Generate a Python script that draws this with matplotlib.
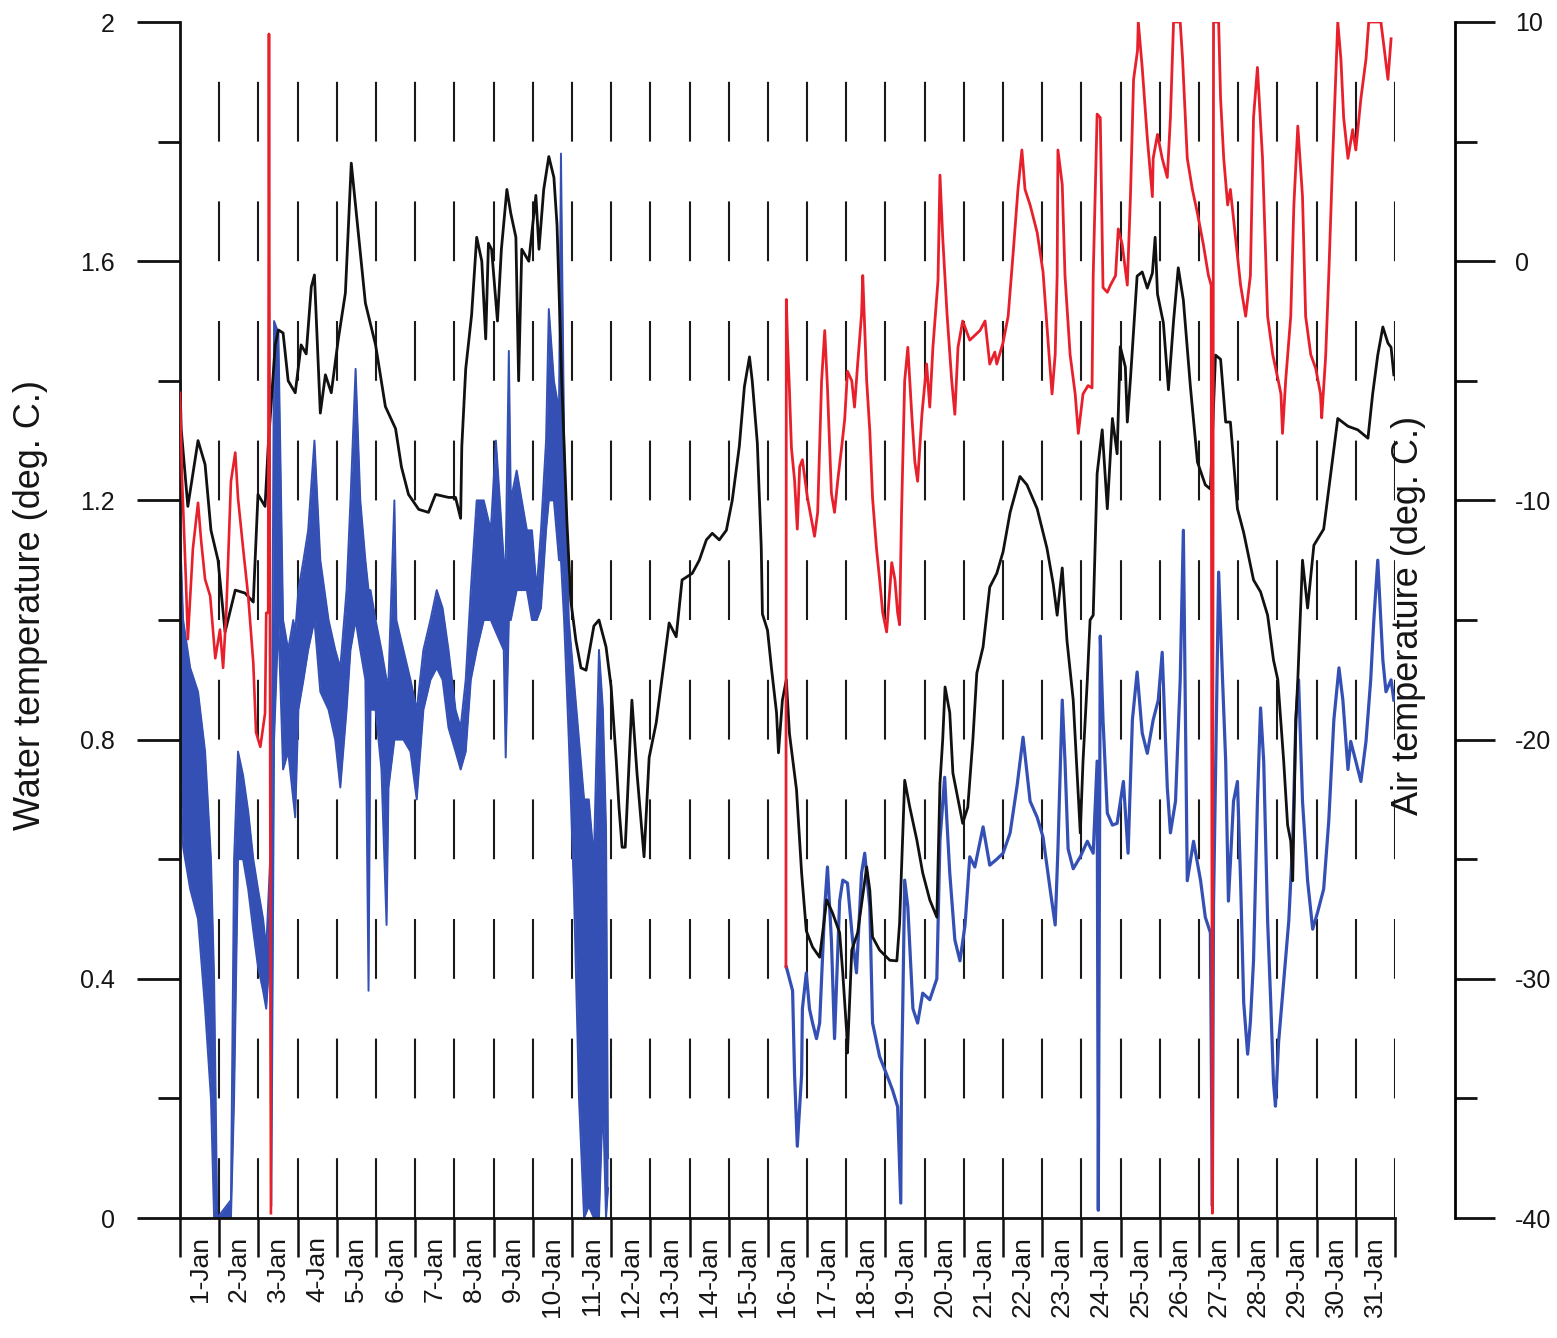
import matplotlib
matplotlib.use('Agg')
import matplotlib.pyplot as plt
from matplotlib.ticker import FixedLocator, FuncFormatter, NullFormatter

plt.rcParams['font.family'] = ['Liberation Sans', 'DejaVu Sans']
plt.rcParams['axes.unicode_minus'] = False
plt.rcParams['lines.scale_dashes'] = False

# ---------------- data ----------------
day_labels = [f"{d}-Jan" for d in range(1, 32)]

# black: water temperature (left axis), time in days from 1-Jan 00:00
water_days = [0.00, 0.03, 0.20, 0.46, 0.64, 0.79, 0.97, 1.15, 1.41, 1.66, 1.87, 1.99, 2.17, 2.25, 2.43, 2.51,
              2.63, 2.76, 2.94, 3.09, 3.22, 3.35, 3.43, 3.58, 3.71, 3.86, 4.04, 4.22, 4.37, 4.73, 4.99, 5.24,
              5.50, 5.65, 5.83, 6.09, 6.34, 6.52, 6.85, 7.03, 7.16, 7.19, 7.29, 7.44, 7.57, 7.70, 7.80, 7.87,
              7.95, 8.10, 8.20, 8.34, 8.44, 8.57, 8.64, 8.72, 8.90, 9.08, 9.16, 9.28, 9.41, 9.54, 9.62, 9.74,
              9.87, 9.97, 10.10, 10.23, 10.36, 10.56, 10.69, 10.87, 11.00, 11.13, 11.20, 11.28, 11.36, 11.46,
              11.53, 11.60, 11.66, 11.84, 11.97, 12.15, 12.40, 12.48, 12.66, 12.81, 13.07, 13.25, 13.43, 13.58,
              13.76, 13.94, 14.09, 14.27, 14.40, 14.53, 14.60, 14.73, 14.83, 14.86, 14.99, 15.09, 15.22, 15.27,
              15.37, 15.47, 15.55, 15.73, 15.86, 15.98, 16.14, 16.32, 16.50, 16.65, 16.83, 16.91, 17.01, 17.03,
              17.14, 17.29, 17.52, 17.60, 17.67, 17.85, 18.11, 18.29, 18.36, 18.49, 18.62, 18.80, 18.95, 19.13,
              19.31, 19.39, 19.46, 19.52, 19.64, 19.72, 19.97, 20.10, 20.23, 20.33, 20.49, 20.66, 20.84, 21.00,
              21.18, 21.43, 21.61, 21.87, 22.12, 22.28, 22.38, 22.51, 22.63, 22.79, 22.92, 22.97, 23.04, 23.15,
              23.22, 23.30, 23.40, 23.53, 23.66, 23.79, 23.91, 23.99, 24.12, 24.17, 24.25, 24.42, 24.55, 24.68,
              24.81, 24.88, 24.94, 25.09, 25.22, 25.35, 25.47, 25.60, 25.78, 25.96, 26.16, 26.29, 26.42, 26.55,
              26.68, 26.80, 26.98, 27.14, 27.39, 27.57, 27.75, 27.90, 28.01, 28.16, 28.26, 28.34, 28.39, 28.47,
              28.52, 28.64, 28.77, 28.93, 29.18, 29.36, 29.54, 29.80, 30.05, 30.31, 30.43, 30.56, 30.69, 30.82,
              30.90, 30.97]
water_temp = [1.40, 1.32, 1.19, 1.30, 1.26, 1.15, 1.10, 0.98, 1.05, 1.045, 1.03, 1.21, 1.19, 1.29, 1.46, 1.485,
              1.48, 1.40, 1.38, 1.46, 1.445, 1.557, 1.577, 1.346, 1.41, 1.38, 1.47, 1.547, 1.764, 1.53, 1.46, 1.357,
              1.32, 1.256, 1.21, 1.185, 1.18, 1.21, 1.205, 1.205, 1.17, 1.29, 1.42, 1.51, 1.64, 1.60, 1.47, 1.63,
              1.62, 1.50, 1.62, 1.72, 1.68, 1.64, 1.40, 1.62, 1.60, 1.71, 1.62, 1.72, 1.775, 1.74, 1.66, 1.40,
              1.167, 1.033, 0.966, 0.92, 0.916, 0.99, 1.00, 0.955, 0.888, 0.766, 0.687, 0.62, 0.62, 0.766,
              0.866, 0.80, 0.744, 0.604, 0.77, 0.828, 0.955, 0.995, 0.972, 1.067, 1.078, 1.10, 1.134, 1.145,
              1.134, 1.15, 1.20, 1.29, 1.39, 1.44, 1.40, 1.296, 1.122, 1.01, 0.983, 0.92, 0.845, 0.778,
              0.866, 0.90, 0.81, 0.716, 0.577, 0.48, 0.453, 0.436, 0.532, 0.51, 0.477, 0.41, 0.31, 0.276,
              0.448, 0.477, 0.587, 0.548, 0.47, 0.448, 0.431, 0.43, 0.493, 0.732, 0.687, 0.632, 0.577, 0.532,
              0.503, 0.727, 0.80, 0.888, 0.845, 0.744, 0.66, 0.687, 0.80, 0.911, 0.955, 1.055, 1.078, 1.114,
              1.18, 1.24, 1.226, 1.186, 1.12, 1.06, 1.008, 1.087, 0.966, 0.866, 0.704, 0.644, 0.764, 0.90,
              1.00, 1.008, 1.245, 1.318, 1.186, 1.337, 1.278, 1.457, 1.423, 1.331, 1.403, 1.575, 1.582, 1.555,
              1.58, 1.64, 1.545, 1.497, 1.385, 1.50, 1.589, 1.535, 1.39, 1.264, 1.226, 1.219, 1.443, 1.436,
              1.331, 1.331, 1.186, 1.146, 1.067, 1.047, 1.008, 0.933, 0.90, 0.764, 0.657, 0.63, 0.564, 0.833,
              0.90, 1.10, 1.02, 1.125, 1.152, 1.245, 1.337, 1.324, 1.318, 1.304, 1.378, 1.443, 1.49, 1.463,
              1.456, 1.41]

# blue: second water sensor, 1-11 Jan (noisy, read as low/high envelope)
band_days = [0.00, 0.08, 0.26, 0.46, 0.64, 0.79, 0.87, 0.95, 1.30, 1.38, 1.48, 1.61, 1.74, 1.87, 1.99, 2.12,
             2.20, 2.30, 2.33, 2.40, 2.51, 2.63, 2.76, 2.89, 2.94, 3.02, 3.15, 3.27, 3.43, 3.58, 3.79, 3.96,
             4.09, 4.25, 4.35, 4.48, 4.60, 4.73, 4.81, 4.86, 4.99, 5.14, 5.27, 5.32, 5.47, 5.52, 5.70, 5.88,
             6.04, 6.21, 6.39, 6.55, 6.70, 6.85, 7.03, 7.16, 7.29, 7.42, 7.57, 7.75, 7.93, 8.06, 8.26, 8.31,
             8.39, 8.44, 8.59, 8.72, 8.85, 8.98, 9.10, 9.21, 9.34, 9.41, 9.54, 9.67, 9.72, 9.80, 9.92, 10.05,
             10.18, 10.31, 10.43, 10.56, 10.69, 10.79, 10.87, 10.92]
band_low = [0.75, 0.62, 0.55, 0.50, 0.35, 0.20, 0.00, 0.00, 0.00, 0.20, 0.60, 0.60, 0.55, 0.48, 0.42, 0.38,
            0.35, 0.45, 0.02, 0.80, 1.00, 0.75, 0.78, 0.70, 0.67, 0.85, 0.90, 0.95, 1.00, 0.88, 0.85, 0.80,
            0.72, 0.85, 0.95, 1.00, 0.95, 0.90, 0.38, 0.85, 0.85, 0.75, 0.49, 0.72, 0.80, 0.80, 0.80, 0.78,
            0.70, 0.85, 0.90, 0.92, 0.90, 0.82, 0.78, 0.75, 0.78, 0.90, 0.95, 1.00, 1.00, 0.98, 0.95, 0.77,
            1.00, 1.00, 1.05, 1.05, 1.05, 1.00, 1.00, 1.02, 1.15, 1.20, 1.20, 1.10, 1.10, 1.00, 0.80, 0.55,
            0.20, 0.00, 0.02, 0.00, 0.00, 0.20, 0.00, 0.05]
band_high = [1.15, 1.00, 0.92, 0.88, 0.78, 0.60, 0.40, 0.00, 0.03, 0.60, 0.78, 0.74, 0.68, 0.60, 0.55, 0.50,
             0.45, 0.60, 0.60, 1.50, 1.48, 1.00, 0.95, 1.00, 0.98, 1.05, 1.10, 1.15, 1.30, 1.10, 1.00, 0.95,
             0.92, 1.05, 1.20, 1.42, 1.20, 1.10, 1.05, 1.05, 1.00, 0.95, 0.90, 0.90, 1.20, 1.00, 0.95, 0.90,
             0.85, 0.95, 1.00, 1.05, 1.02, 0.95, 0.85, 0.82, 0.90, 1.05, 1.20, 1.20, 1.15, 1.30, 1.10, 1.10,
             1.45, 1.20, 1.25, 1.20, 1.15, 1.15, 1.05, 1.15, 1.30, 1.52, 1.40, 1.35, 1.78, 1.30, 1.00, 0.90,
             0.80, 0.70, 0.70, 0.60, 0.95, 0.85, 0.65, 0.10]

# blue: second water sensor, 16-31 Jan
probe_days = [15.47, 15.63, 15.68, 15.75, 15.86, 15.88, 15.98, 16.06, 16.14, 16.24, 16.32, 16.45, 16.52, 16.62,
              16.70, 16.83, 16.91, 17.03, 17.16, 17.26, 17.39, 17.47, 17.60, 17.67, 17.85, 18.03, 18.18, 18.31,
              18.39, 18.41, 18.44, 18.49, 18.57, 18.70, 18.82, 18.95, 19.13, 19.31, 19.39, 19.51, 19.57, 19.64,
              19.77, 19.90, 20.03, 20.15, 20.28, 20.49, 20.66, 20.84, 21.00, 21.18, 21.36, 21.51, 21.69, 21.87,
              22.02, 22.20, 22.33, 22.40, 22.51, 22.58, 22.66, 22.79, 22.97, 23.15, 23.30, 23.40, 23.43, 23.48,
              23.55, 23.66, 23.79, 23.91, 24.07, 24.19, 24.30, 24.42, 24.55, 24.68, 24.83, 24.96, 25.06, 25.19,
              25.27, 25.40, 25.52, 25.60, 25.70, 25.86, 26.04, 26.16, 26.29, 26.34, 26.37, 26.50, 26.60, 26.68,
              26.75, 26.88, 26.98, 27.06, 27.14, 27.24, 27.31, 27.39, 27.49, 27.57, 27.65, 27.75, 27.83, 27.90,
              27.95, 28.03, 28.16, 28.29, 28.39, 28.47, 28.54, 28.64, 28.77, 28.90, 29.02, 29.18, 29.31, 29.44,
              29.57, 29.67, 29.80, 29.87, 30.00, 30.13, 30.26, 30.38, 30.46, 30.56, 30.69, 30.77, 30.90, 30.97]
probe_temp = [0.42, 0.38, 0.24, 0.12, 0.24, 0.35, 0.41, 0.35, 0.326, 0.30, 0.326, 0.52, 0.587, 0.465,
              0.30, 0.53, 0.565, 0.56, 0.465, 0.41, 0.577, 0.61, 0.52, 0.326, 0.27, 0.24, 0.214, 0.186,
              0.025, 0.24, 0.35, 0.565, 0.52, 0.35, 0.326, 0.376, 0.365, 0.40, 0.632, 0.737, 0.66, 0.577,
              0.465, 0.43, 0.49, 0.604, 0.587, 0.654, 0.59, 0.60, 0.61, 0.644, 0.724, 0.804, 0.697, 0.67,
              0.637, 0.55, 0.49, 0.617, 0.866, 0.764, 0.617, 0.584, 0.604, 0.63, 0.61, 0.764, 0.013, 0.973,
              0.833, 0.677, 0.657, 0.66, 0.73, 0.61, 0.833, 0.913, 0.811, 0.777, 0.833, 0.866, 0.946, 0.72,
              0.644, 0.697, 0.90, 1.15, 0.564, 0.63, 0.564, 0.503, 0.477, 0.02, 0.523, 1.08, 0.90, 0.764,
              0.53, 0.697, 0.73, 0.564, 0.36, 0.274, 0.328, 0.43, 0.697, 0.853, 0.764, 0.497, 0.36, 0.227,
              0.187, 0.294, 0.396, 0.497, 0.63, 0.833, 0.90, 0.697, 0.564, 0.483, 0.51, 0.55, 0.664, 0.833,
              0.92, 0.866, 0.75, 0.797, 0.764, 0.73, 0.797, 0.90, 1.00, 1.10, 0.933, 0.88, 0.90, 0.866]

# red: air temperature (right axis), 1-3 Jan
air_days_early = [0.00, 0.05, 0.15, 0.20, 0.33, 0.46, 0.54, 0.64, 0.77, 0.90, 1.02, 1.10, 1.18, 1.30, 1.41,
                  1.48, 1.61, 1.74, 1.87, 1.94, 2.05, 2.17, 2.20, 2.25, 2.27, 2.32]
air_temp_early = [-5.5, -9.0, -13.3, -15.8, -12.0, -10.1, -11.7, -13.3, -14.0, -16.6, -15.4, -17.0, -14.7,
                  -9.2, -8.0, -9.9, -12.0, -14.0, -16.8, -19.7, -20.3, -18.9, -14.7, -14.7, 9.5, -39.8]

# red: air temperature (right axis), 16-31 Jan
air_days_late = [15.46, 15.47, 15.50, 15.55, 15.60, 15.68, 15.75, 15.81, 15.88, 16.01, 16.11, 16.19, 16.27,
                 16.37, 16.45, 16.52, 16.62, 16.70, 16.78, 16.88, 16.96, 17.03, 17.14, 17.21, 17.29, 17.39,
                 17.42, 17.52, 17.60, 17.67, 17.77, 17.85, 17.93, 18.03, 18.16, 18.24, 18.31, 18.36, 18.41,
                 18.49, 18.57, 18.67, 18.75, 18.82, 18.93, 19.05, 19.13, 19.21, 19.34, 19.39, 19.46, 19.57,
                 19.69, 19.77, 19.85, 19.97, 20.15, 20.41, 20.54, 20.66, 20.79, 20.84, 21.00, 21.13, 21.26,
                 21.38, 21.48, 21.56, 21.69, 21.87, 22.02, 22.15, 22.25, 22.33, 22.38, 22.40, 22.51, 22.58,
                 22.71, 22.84, 22.92, 23.04, 23.17, 23.27, 23.30, 23.40, 23.48, 23.55, 23.66, 23.74, 23.87,
                 23.94, 24.04, 24.17, 24.25, 24.33, 24.43, 24.45, 24.55, 24.68, 24.81, 24.83, 24.94, 25.06,
                 25.19, 25.27, 25.35, 25.52, 25.58, 25.70, 25.83, 25.96, 26.11, 26.24, 26.31, 26.34, 26.37,
                 26.50, 26.55, 26.63, 26.73, 26.80, 26.93, 27.06, 27.19, 27.31, 27.39, 27.49, 27.62, 27.75,
                 27.88, 28.01, 28.09, 28.13, 28.21, 28.34, 28.42, 28.52, 28.64, 28.72, 28.85, 28.98, 29.10,
                 29.13, 29.23, 29.31, 29.41, 29.54, 29.62, 29.69, 29.80, 29.92, 30.00, 30.13, 30.26, 30.33,
                 30.64, 30.72, 30.82, 30.90]
air_temp_late = [-29.5, -1.6, -3.3, -5.4, -7.8, -9.15, -11.2, -8.6, -8.3, -9.9, -10.8, -11.5, -10.5,
                 -5.0, -2.9, -5.3, -9.7, -10.5, -9.2, -7.8, -6.6, -4.6, -5.0, -6.1, -4.3, -2.2,
                 -0.6, -5.0, -7.1, -9.9, -12.0, -13.3, -14.7, -15.5, -12.6, -13.3, -14.7, -15.2, -10.5,
                 -5.0, -3.6, -6.4, -8.4, -9.2, -6.4, -4.3, -6.1, -3.6, -0.8, 3.6, 1.0, -2.2,
                 -5.0, -6.4, -3.6, -2.5, -3.3, -2.9, -2.5, -4.3, -3.8, -4.3, -3.4, -2.3, 0.4,
                 3.0, 4.65, 3.0, 2.35, 1.2, -0.45, -3.4, -5.55, -3.9, -0.6, 4.65, 3.2, -0.6,
                 -3.9, -5.55, -7.2, -5.55, -5.2, -5.3, -0.6, 6.15, 6.0, -1.1, -1.3, -1.0, -0.6,
                 1.35, 0.7, -1.0, 2.7, 7.6, 8.8, 10.0, 8.1, 5.15, 2.7, 4.3, 5.3, 4.3,
                 3.5, 6.0, 10.0, 10.0, 8.45, 4.3, 3.0, 2.0, 0.7, -0.6, -1.0, -39.8, 10.0,
                 10.0, 6.8, 4.3, 2.35, 3.0, 1.0, -1.0, -2.3, -0.6, 6.0, 8.1, 4.3, -2.3,
                 -3.9, -4.9, -5.55, -7.2, -5.0, -2.3, 2.35, 5.65, 2.7, -2.3, -3.9, -4.5, -5.55,
                 -6.55, -4.0, -0.6, 4.3, 10.0, 8.45, 6.0, 4.3, 5.5, 4.65, 6.8, 8.45, 10.0,
                 10.0, 8.95, 7.6, 9.3]

water_ticks = [0, 0.4, 0.8, 1.2, 1.6, 2.0]
water_minor = [0.2, 0.6, 1.0, 1.4, 1.8]
air_ticks = [-40, -30, -20, -10, 0, 10]
air_minor = [-35, -25, -15, -5, 5]

BLUE = '#3450b4'
RED = '#e8202c'
BLACK = '#111111'
TXT = '#151515'

# ---------------- figure ----------------
W, H = 1557, 1338
fig = plt.figure(figsize=(W / 100, H / 100), dpi=100)
fig.patch.set_facecolor('white')
L, R, B, T = 180, 1395, 1218, 22
ax = fig.add_axes([L / W, (H - B) / H, (R - L) / W, (B - T) / H])
ax.set_xlim(0, 31)
ax.set_ylim(0, 2)
ax.patch.set_alpha(0)

# dashed vertical grid at each day boundary
dash_pts = 0.1 * (B - T) / 2.0 * 0.72
ax.vlines(range(1, 32), 0, 2, colors='#1a1a1a', linewidth=1.5,
          linestyles=[(0, (dash_pts, dash_pts))], zorder=1)

# data
ax.fill_between(band_days, band_low, band_high, color=BLUE, linewidth=0, zorder=2)
ax.plot(band_days, band_low, color=BLUE, lw=1.4, zorder=2)
ax.plot(band_days, band_high, color=BLUE, lw=1.4, zorder=2)
ax.plot(probe_days, probe_temp, color=BLUE, lw=2.3, zorder=2)
ax.plot(water_days, water_temp, color=BLACK, lw=2.0, zorder=3)

# left axis styling
for s in ['top', 'right']:
    ax.spines[s].set_visible(False)
for s in ['left', 'bottom']:
    ax.spines[s].set_linewidth(2.0)
    ax.spines[s].set_color(BLACK)

ax.yaxis.set_major_locator(FixedLocator(water_ticks))
ax.yaxis.set_minor_locator(FixedLocator(water_minor))
ax.yaxis.set_major_formatter(FuncFormatter(lambda v, p: f"{v:g}"))
ax.yaxis.set_minor_formatter(NullFormatter())
ax.tick_params(axis='y', which='major', direction='out', length=31, width=2.0,
               labelsize=18, pad=16, colors=BLACK, labelcolor=TXT)
ax.tick_params(axis='y', which='minor', direction='out', length=16, width=2.0, colors=BLACK)

ax.xaxis.set_major_locator(FixedLocator(list(range(0, 32))))
ax.xaxis.set_major_formatter(NullFormatter())
ax.xaxis.set_minor_locator(FixedLocator([i + 0.5 for i in range(31)]))
ax.xaxis.set_minor_formatter(FuncFormatter(lambda v, p: day_labels[int(v)] if 0 <= int(v) < 31 else ''))
ax.tick_params(axis='x', which='major', direction='out', length=28, width=1.8, colors=BLACK)
ax.tick_params(axis='x', which='minor', length=0, labelsize=19, pad=13, labelrotation=90, labelcolor=TXT)
for lab in ax.xaxis.get_minorticklabels():
    lab.set_verticalalignment('top')
    lab.set_horizontalalignment('center')

# right axis: air temperature
ax2 = ax.twinx()
ax2.set_ylim(-40, 10)
for s in ['top', 'bottom', 'left']:
    ax2.spines[s].set_visible(False)
ax2.spines['right'].set_position(('axes', (1455 - L) / (R - L)))
ax2.spines['right'].set_linewidth(2.0)
ax2.yaxis.set_major_locator(FixedLocator(air_ticks))
ax2.yaxis.set_minor_locator(FixedLocator(air_minor))
ax2.yaxis.set_major_formatter(FuncFormatter(lambda v, p: f"{int(v)}"))
ax2.yaxis.set_minor_formatter(NullFormatter())
ax2.tick_params(axis='y', which='major', direction='out', length=29, width=2.0,
                labelsize=18, pad=14, colors=BLACK, labelcolor=TXT)
ax2.tick_params(axis='y', which='minor', direction='out', length=16, width=2.0, colors=BLACK)

ax2.plot(air_days_early, air_temp_early, color=RED, lw=1.9, zorder=4)
ax2.plot(air_days_late, air_temp_late, color=RED, lw=2.0, zorder=4)

# axis titles
fig.text(31 / W, 1 - 605 / H, 'Water temperature (deg. C.)', rotation=90, ha='center', va='center',
         fontsize=26, color=TXT)
fig.text(1409 / W, 1 - 615 / H, 'Air temperature (deg. C.)', rotation=90, ha='center', va='center',
         fontsize=26, color=TXT)

fig.savefig('out.png', dpi=100, facecolor='white')
